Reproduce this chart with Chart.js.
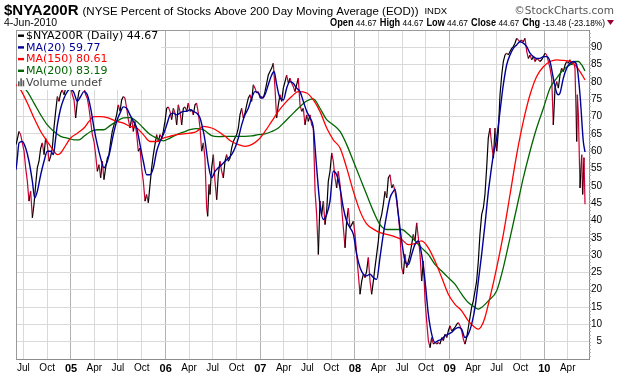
<!DOCTYPE html>
<html>
<head>
<meta charset="utf-8">
<script src="https://cdn.jsdelivr.net/npm/chart.js@4.4.0/dist/chart.umd.min.js"></script>
<style>
html,body{margin:0;padding:0;background:#fff;}
canvas{display:block;}
</style>
</head>
<body>
<canvas id="c" width="620" height="376"></canvas>
<script>
// ---------- DATA ----------
const titleSymbol = '$NYA200R';
const titleName = '(NYSE Percent of Stocks Above 200 Day Moving Average (EOD))';
const titleExchange = 'INDX';
const quoteDate = '4-Jun-2010';
const quoteFields = ['Open', 'High', 'Low', 'Close', 'Chg'];
const quoteValues = ['44.67', '44.67', '44.67', '44.67', '-13.48 (-23.18%)'];

// dates as decimal years
const priceDates = [
2004.420,2004.451,2004.468,2004.486,2004.504,2004.521,2004.539,2004.556,2004.574,2004.592,
2004.609,2004.627,2004.644,2004.662,2004.680,2004.697,2004.715,2004.732,2004.750,2004.768,
2004.785,2004.803,2004.820,2004.838,2004.856,2004.873,2004.891,2004.908,2004.926,2004.944,
2004.961,2004.979,2004.996,2005.014,2005.032,2005.049,2005.067,2005.084,2005.102,2005.120,
2005.137,2005.155,2005.172,2005.190,2005.208,2005.225,2005.243,2005.260,2005.278,2005.296,
2005.313,2005.331,2005.348,2005.366,2005.384,2005.401,2005.419,2005.436,2005.454,
2005.465,2005.482,2005.500,2005.518,2005.535,2005.553,2005.570,2005.588,2005.606,2005.623,
2005.641,2005.658,2005.676,2005.694,2005.711,2005.729,2005.746,2005.764,2005.782,2005.799,
2005.817,2005.835,2005.852,2005.870,2005.887,2005.905,2005.923,2005.940,2005.958,2005.975,
2005.993,2006.011,2006.028,2006.046,2006.063,2006.081,2006.099,2006.116,2006.134,2006.151,
2006.169,2006.187,2006.204,2006.222,2006.239,2006.257,2006.275,2006.292,2006.310,2006.327,
2006.345,2006.363,2006.380,2006.398,2006.415,2006.433,2006.444,2006.458,2006.468,
2006.486,2006.504,2006.521,2006.539,2006.556,2006.574,2006.592,2006.609,2006.627,2006.644,
2006.662,2006.680,2006.697,2006.715,2006.732,2006.750,2006.768,2006.785,2006.803,2006.820,
2006.838,2006.856,2006.873,2006.891,2006.908,2006.926,2006.944,2006.961,2006.979,2006.997,
2007.014,2007.032,2007.049,2007.067,2007.084,2007.102,2007.120,2007.137,2007.155,2007.172,
2007.190,2007.208,2007.225,2007.243,2007.261,2007.278,2007.296,2007.313,2007.331,2007.348,
2007.366,2007.384,2007.401,
2007.419,2007.437,2007.454,2007.472,2007.490,2007.507,2007.525,2007.542,2007.560,2007.578,
2007.595,2007.613,2007.630,2007.648,2007.666,2007.683,2007.701,2007.718,2007.736,2007.754,
2007.771,2007.789,2007.806,2007.824,2007.842,2007.859,2007.877,2007.895,2007.912,2007.930,
2007.947,2007.965,2007.983,2008.000,2008.018,2008.035,2008.053,2008.071,2008.088,2008.106,
2008.123,2008.141,2008.159,2008.176,2008.194,2008.211,2008.229,2008.247,2008.264,2008.282,
2008.299,2008.317,2008.335,2008.352,2008.370,2008.388,2008.405,
2008.423,2008.440,2008.458,2008.476,2008.493,2008.511,2008.528,2008.546,2008.564,2008.581,
2008.599,2008.616,2008.634,2008.652,2008.669,2008.687,2008.704,2008.722,2008.740,2008.757,
2008.775,2008.793,2008.810,2008.828,2008.845,2008.863,2008.880,2008.898,2008.916,2008.933,
2008.951,2008.969,2008.986,2009.004,2009.021,2009.039,2009.056,2009.074,2009.092,2009.109,
2009.127,2009.145,2009.162,2009.180,2009.197,2009.215,2009.232,2009.250,2009.268,2009.285,
2009.303,2009.320,2009.338,2009.356,2009.373,2009.391,2009.408,
2009.426,2009.444,2009.462,2009.479,2009.497,2009.514,2009.532,2009.550,2009.567,2009.585,
2009.602,2009.620,2009.638,2009.655,2009.673,2009.690,2009.708,2009.726,2009.743,2009.761,
2009.778,2009.796,2009.814,2009.831,2009.849,2009.866,2009.884,2009.902,2009.919,2009.937,
2009.954,2009.972,2009.990,2010.007,2010.025,2010.043,2010.060,2010.078,2010.095,2010.113,
2010.131,2010.148,2010.166,2010.183,2010.201,2010.219,2010.236,2010.254,2010.271,2010.289,
2010.307,2010.324,2010.342,2010.349,2010.360,2010.377,2010.395,2010.405,2010.419,2010.430
];
const priceValues = [
61.9,65.7,64.8,62.4,60.0,55.2,51.3,45.6,48.4,40.8,
44.6,50.4,55.2,57.1,60.9,62.4,59.0,63.8,61.9,57.1,
58.5,60.9,66.7,71.5,75.8,74.4,76.8,77.7,76.3,78.2,
78.7,77.7,78.7,76.3,74.8,69.6,74.4,77.2,78.2,77.7,
78.2,76.3,75.3,72.4,68.6,64.8,62.8,59.0,54.2,56.1,
52.3,57.1,51.8,55.2,58.0,59.0,62.8,65.7,67.6,
68.6,70.5,73.4,71.5,74.8,75.8,75.3,72.4,69.1,66.7,
69.6,65.7,68.6,64.8,60.0,60.9,55.2,51.3,45.6,47.5,
45.1,50.4,55.2,59.0,61.9,64.8,62.8,64.8,63.8,65.7,
68.6,72.4,72.8,71.5,69.1,72.4,71.0,67.6,73.4,71.5,
67.6,72.4,72.8,71.5,73.9,71.5,72.0,70.5,73.4,73.9,
71.0,66.7,60.0,62.4,58.0,43.6,41.2,50.4,47.5,
55.2,59.0,51.3,46.0,53.2,57.1,54.2,52.3,57.1,59.0,
57.1,58.0,60.9,62.8,63.8,64.8,66.7,70.5,72.4,69.6,
71.0,73.4,75.3,76.3,74.4,79.2,78.2,76.8,77.2,75.3,
75.8,75.3,77.2,79.6,82.0,83.0,84.0,85.4,78.2,69.6,
73.4,76.3,74.4,78.2,80.1,82.0,79.6,81.1,79.6,78.7,
77.2,79.2,81.1,
73.4,71.5,72.4,67.6,70.5,68.6,70.5,67.6,66.7,48.4,
41.7,30.2,45.6,41.7,45.6,38.8,42.7,51.3,54.2,59.5,
57.1,52.3,49.4,54.2,50.4,43.6,37.9,32.1,39.8,43.6,
37.9,38.8,39.8,36.0,30.2,24.5,18.7,22.5,24.5,23.5,
25.4,29.3,22.5,18.7,22.5,26.4,30.2,34.1,39.8,41.7,
44.6,48.4,46.5,52.3,53.2,49.4,50.4,
48.4,45.6,41.7,36.0,26.4,24.5,30.2,26.4,28.3,30.2,
33.1,36.0,34.1,39.3,35.0,30.2,22.5,28.3,16.8,11.0,
5.3,3.3,6.2,4.3,4.8,4.3,4.8,4.3,6.2,5.3,
7.2,6.2,8.1,9.6,8.1,8.6,9.1,10.0,10.5,9.6,
8.1,5.7,4.3,6.2,9.1,12.0,14.9,16.8,19.7,22.5,
28.3,36.0,41.7,43.6,47.5,55.2,63.8,
66.7,61.9,58.0,66.7,60.0,65.7,76.3,82.0,85.9,87.8,
88.3,87.8,88.8,89.7,90.2,91.2,92.6,92.1,91.6,92.1,
91.6,92.6,88.8,86.8,87.8,86.4,87.3,85.9,86.8,86.4,
85.9,86.4,87.3,88.3,87.8,85.9,84.0,81.1,67.6,78.2,
80.1,78.2,82.0,84.0,83.0,84.9,85.9,85.4,86.4,84.9,
85.9,84.0,62.8,76.3,70.5,49.4,59.0,47.5,58.15,44.67
];

const ma20Dates = [
2004.420,2004.433,2004.451,2004.486,2004.521,2004.556,2004.592,2004.616,2004.644,2004.680,
2004.715,2004.750,2004.785,2004.813,2004.838,2004.856,2004.891,2004.926,2004.961,2004.996,
2005.032,2005.067,2005.102,2005.137,2005.172,2005.208,2005.243,2005.278,2005.313,2005.348,
2005.384,2005.412,2005.447,2005.482,2005.518,2005.553,2005.588,2005.623,2005.659,2005.694,
2005.729,2005.764,2005.799,2005.835,2005.870,2005.905,2005.940,2005.975,2006.011,2006.046,
2006.081,2006.116,2006.151,2006.187,2006.222,2006.257,2006.292,2006.327,2006.363,2006.398,
2006.416,2006.451,2006.486,2006.521,2006.556,2006.592,2006.627,2006.662,2006.697,2006.732,
2006.768,2006.803,2006.838,2006.873,2006.908,2006.944,2006.979,2007.014,2007.049,2007.084,
2007.120,2007.145,2007.173,2007.208,2007.243,2007.278,2007.313,2007.348,2007.384,2007.419,
2007.454,2007.490,2007.525,2007.560,2007.595,2007.630,2007.666,2007.701,2007.736,2007.771,
2007.806,2007.842,2007.877,2007.912,2007.947,2007.983,2008.018,2008.053,2008.088,2008.123,
2008.159,2008.194,2008.229,2008.264,2008.299,2008.335,2008.370,2008.405,2008.423,2008.458,
2008.493,2008.528,2008.564,2008.599,2008.634,2008.669,2008.704,2008.740,2008.775,2008.810,
2008.845,2008.880,2008.916,2008.951,2008.986,2009.021,2009.056,2009.092,2009.127,2009.162,
2009.197,2009.232,2009.268,2009.303,2009.338,2009.373,2009.409,2009.426,2009.462,2009.497,
2009.532,2009.567,2009.602,2009.638,2009.673,2009.708,2009.743,2009.778,2009.814,2009.849,
2009.884,2009.919,2009.954,2009.990,2010.025,2010.060,2010.095,2010.131,2010.148,2010.166,
2010.201,2010.236,2010.271,2010.307,2010.342,2010.377,2010.412,2010.430
];
const ma20Values = [
54.7,58.0,62.4,62.8,60.9,57.1,51.3,46.5,48.4,53.2,
57.1,60.0,60.0,59.0,63.8,67.6,72.4,75.3,77.2,78.2,
76.8,74.4,75.8,77.2,76.3,72.4,66.7,61.9,58.0,55.2,
57.1,60.0,64.8,68.6,71.0,72.8,72.4,70.5,68.6,66.7,
61.9,57.1,53.2,53.2,55.2,60.0,62.8,64.8,67.6,70.5,
71.0,70.5,71.0,71.5,71.5,72.0,71.5,71.0,69.6,65.7,
63.0,56.1,52.3,54.2,55.2,56.1,57.1,58.0,59.0,60.9,
63.8,67.6,70.5,72.4,75.3,77.2,76.8,75.3,76.3,79.2,
82.0,83.0,79.2,75.3,74.8,78.2,80.1,79.6,78.2,77.2,
74.4,71.5,69.6,66.7,55.2,44.6,40.3,41.7,45.6,54.2,
53.2,49.4,43.6,39.8,37.9,36.0,30.2,26.4,24.5,24.0,
24.5,23.5,23.0,29.3,36.0,41.7,46.5,48.4,49.0,41.7,
34.1,28.3,27.3,30.2,33.1,34.1,30.2,22.5,12.9,7.2,
4.8,5.3,5.7,6.7,7.2,7.7,8.6,9.1,8.6,6.2,
7.2,10.0,14.9,22.5,30.2,38.8,48.4,52.0,59.0,63.8,
71.5,79.2,84.9,87.8,89.7,90.7,91.6,91.2,90.2,88.3,
87.3,86.8,86.8,87.3,87.3,85.9,81.1,76.8,76.3,76.8,
81.1,84.0,85.4,85.9,84.9,76.3,62.8,59.77
];

const ma150Dates = [
2004.420,2004.468,2004.539,2004.609,2004.680,2004.750,2004.820,2004.856,2004.891,2004.926,
2004.961,2004.996,2005.067,2005.137,2005.190,2005.243,2005.313,2005.384,2005.482,2005.553,
2005.623,2005.694,2005.764,2005.835,2005.905,2005.975,2006.046,2006.116,2006.187,2006.257,
2006.327,2006.398,2006.486,2006.556,2006.627,2006.697,2006.768,2006.838,2006.908,2006.979,
2007.049,2007.120,2007.190,2007.261,2007.331,2007.401,2007.490,2007.560,2007.630,2007.701,
2007.771,2007.842,2007.912,2007.983,2008.053,2008.123,2008.194,2008.264,2008.335,2008.405,
2008.493,2008.564,2008.634,2008.704,2008.775,2008.845,2008.916,2008.986,2009.056,2009.127,
2009.197,2009.268,2009.303,2009.338,2009.373,2009.409,2009.426,2009.497,2009.567,2009.638,
2009.708,2009.778,2009.849,2009.919,2009.990,2010.060,2010.131,2010.201,2010.271,2010.324,
2010.377,2010.430
];
const ma150Values = [
79.2,77.7,73.9,69.6,65.7,62.8,60.0,59.0,59.5,60.9,
62.4,63.8,65.2,66.7,68.6,70.0,70.0,69.7,68.6,68.1,
67.2,66.7,64.8,62.8,62.8,63.8,64.3,64.8,65.0,65.2,
65.7,67.2,66.7,65.7,64.3,62.8,61.9,61.4,61.9,63.3,
65.7,68.6,71.5,73.9,75.8,77.2,76.8,74.8,71.5,66.7,
63.3,60.9,55.2,48.4,42.7,39.0,37.5,36.5,36.0,35.5,
34.5,33.0,33.3,34.1,32.1,28.3,23.5,18.7,15.8,13.9,
11.0,9.1,8.6,9.6,12.0,15.8,17.7,26.4,36.0,47.5,
59.0,68.6,76.3,81.6,84.4,85.9,86.4,86.2,85.9,84.9,
83.0,80.61
];

const ma200Dates = [
2004.470,2004.539,2004.609,2004.680,2004.750,2004.820,2004.891,2004.961,2005.032,2005.084,
2005.137,2005.208,2005.278,2005.348,2005.412,2005.482,2005.553,2005.623,2005.694,2005.764,
2005.835,2005.905,2005.975,2006.046,2006.116,2006.187,2006.257,2006.327,2006.398,2006.486,
2006.556,2006.627,2006.697,2006.768,2006.838,2006.908,2006.979,2007.049,2007.120,2007.190,
2007.261,2007.331,2007.401,2007.490,2007.560,2007.630,2007.701,2007.771,2007.842,2007.912,
2007.983,2008.053,2008.123,2008.194,2008.264,2008.335,2008.405,2008.493,2008.564,2008.634,
2008.704,2008.775,2008.845,2008.916,2008.986,2009.056,2009.127,2009.197,2009.268,2009.303,
2009.338,2009.409,2009.497,2009.567,2009.638,2009.708,2009.778,2009.849,2009.919,2009.990,
2010.060,2010.131,2010.201,2010.271,2010.324,2010.360,2010.395,2010.430
];
const ma200Values = [
79.2,77.2,73.9,70.5,67.6,65.7,64.3,63.8,63.3,63.3,
64.3,65.7,66.2,66.2,67.4,68.6,69.6,69.7,68.6,66.7,
64.8,63.8,63.0,63.8,64.8,65.5,66.2,66.5,66.2,64.5,
64.2,64.3,64.3,64.3,64.3,64.4,64.8,65.0,65.7,66.7,
68.6,70.5,72.4,74.5,75.1,72.4,69.1,67.6,65.7,61.9,
57.1,52.3,47.5,42.7,38.8,37.4,37.4,37.4,36.0,34.1,
32.1,30.2,27.3,25.4,23.5,21.6,18.7,16.3,14.9,14.4,
14.9,16.8,19.7,26.4,35.0,43.6,52.3,60.0,66.7,72.4,
78.2,81.1,83.5,84.9,85.9,85.9,84.9,83.19
];

// axis ticks
const xTickValues = [2004.496,2004.748,2005,2005.247,2005.496,2005.748,2006,2006.247,2006.496,2006.748,
  2007,2007.247,2007.496,2007.748,2008,2008.249,2008.497,2008.749,2009,2009.247,2009.496,2009.748,2010,2010.247];
const xTickLabels = ['Jul','Oct','05','Apr','Jul','Oct','06','Apr','Jul','Oct',
  '07','Apr','Jul','Oct','08','Apr','Jul','Oct','09','Apr','Jul','Oct','10','Apr'];
const yTickValues = [5,10,15,20,25,30,35,40,45,50,55,60,65,70,75,80,85,90];
const xRange = [2004.419, 2010.472];
const yRange = [0, 95];

// ---------- STYLE ----------
const SANS = '"Liberation Sans", Arial, sans-serif';
const VERD = '"DejaVu Sans", Verdana, sans-serif';
const C_UP = '#000000', C_DOWN = '#cc0033', C_MA20 = '#000099', C_MA150 = '#ff0000', C_MA200 = '#006600';

const pts = (d, v) => d.map((x, i) => ({x: x, y: v[i]}));
const isYear = v => Math.abs(v - Math.round(v)) < 1e-6;

const legendItems = [
  {text: titleSymbol + ' (Daily) ' + priceValues[priceValues.length-1], color: '#000', mark: C_UP},
  {text: 'MA(20) ' + ma20Values[ma20Values.length-1], color: C_MA20, mark: C_MA20},
  {text: 'MA(150) ' + ma150Values[ma150Values.length-1], color: C_MA150, mark: C_MA150},
  {text: 'MA(200) ' + ma200Values[ma200Values.length-1], color: C_MA200, mark: C_MA200},
  {text: 'Volume undef', color: '#444', mark: 'bars'}
];

const framePlugin = {
  id: 'frame',
  beforeDatasetsDraw(chart) {
    const {ctx, chartArea: a} = chart;
    ctx.save();
    ctx.strokeStyle = '#9a9a9a';
    ctx.lineWidth = 1;
    ctx.beginPath();
    ctx.moveTo(a.left + 0.5, a.top); ctx.lineTo(a.left + 0.5, a.bottom);
    ctx.moveTo(a.left, a.top + 0.5); ctx.lineTo(a.right, a.top + 0.5);
    ctx.stroke();
    const ys = chart.scales.y;
    ctx.strokeStyle = '#b0b0b0';
    ctx.beginPath();
    for (let v = yRange[0] + 1; v < yRange[1]; v++) {
      const y = Math.round(ys.getPixelForValue(v)) + 0.5;
      ctx.moveTo(a.right, y); ctx.lineTo(a.right + 2, y);
    }
    ctx.stroke();
    ctx.restore();
  },
  afterDatasetsDraw(chart) {
    const {ctx, chartArea: a} = chart;
    ctx.save();
    ctx.font = '11px ' + VERD;
    let w = 0;
    legendItems.forEach(it => { w = Math.max(w, ctx.measureText(it.text).width); });
    const lh = 11.7, x0 = a.left + 1, y0 = a.top + 1;
    ctx.fillStyle = '#ffffff';
    ctx.fillRect(x0, y0, w + 12, lh * legendItems.length + 0.5);
    ctx.textBaseline = 'middle';
    legendItems.forEach((it, i) => {
      const yc = y0 + 4.5 + i * lh;
      if (it.mark === 'bars') {
        ctx.fillStyle = '#555';
        ctx.fillRect(x0 + 1, yc - 1, 1.6, 5);
        ctx.fillRect(x0 + 3.3, yc - 4, 1.6, 8);
        ctx.fillRect(x0 + 5.6, yc - 2, 1.6, 6);
      } else {
        ctx.fillStyle = it.mark;
        ctx.fillRect(x0 + 1, yc - 1, 6, 2.4);
      }
      ctx.fillStyle = it.color;
      ctx.fillText(it.text, x0 + 9, yc + 0.5);
    });
    ctx.restore();
  },
  afterDraw(chart) {
    const ctx = chart.ctx;
    ctx.save();
    ctx.textBaseline = 'alphabetic';
    ctx.textAlign = 'left';
    ctx.fillStyle = '#000';
    let x = 4;
    ctx.font = 'bold 15px ' + SANS;
    ctx.fillText(titleSymbol, x, 15);
    x += ctx.measureText(titleSymbol).width + 4;
    ctx.font = '11.5px ' + SANS;
    ctx.fillText(titleName, x, 15);
    x += ctx.measureText(titleName).width + 6;
    ctx.font = '9.5px ' + SANS;
    ctx.fillText(titleExchange, x, 14);
    ctx.textAlign = 'right';
    ctx.fillStyle = '#555';
    ctx.font = '10.5px ' + VERD;
    ctx.fillText('\u00A9StockCharts.com', 614, 14);
    ctx.textAlign = 'left';
    ctx.fillStyle = '#000';
    ctx.font = '10.5px ' + SANS;
    ctx.fillText(quoteDate, 4, 26);
    // quote line, fitted to the width it takes in the reference
    const segs = [];
    quoteFields.forEach((f, i) => {
      segs.push({t: f, f: 'bold 10.5px ' + SANS, g: 0});
      segs.push({t: ' ' + quoteValues[i], f: '9.5px ' + SANS, g: (i < quoteFields.length - 1 ? 3.5 : 0)});
    });
    let total = 0;
    segs.forEach(s => { ctx.font = s.f; s.w = ctx.measureText(s.t).width; total += s.w + s.g; });
    const qLeft = 330, qRight = 605;
    const k = Math.min(1, (qRight - qLeft) / total);
    ctx.save();
    ctx.translate(qRight - total * k, 0);
    ctx.scale(k, 1);
    let sx = 0;
    segs.forEach(s => { ctx.font = s.f; ctx.fillText(s.t, sx, 26); sx += s.w + s.g; });
    ctx.restore();
    ctx.fillStyle = '#990033';
    ctx.beginPath();
    ctx.moveTo(607, 20); ctx.lineTo(614, 20); ctx.lineTo(610.5, 25); ctx.closePath();
    ctx.fill();
    ctx.restore();
  }
};

const lineDs = (label, d, v, color, w) => ({
  label, data: pts(d, v), borderColor: color, borderWidth: w, pointRadius: 0,
  fill: false, tension: 0, cubicInterpolationMode: 'monotone', parsing: false
});

new Chart(document.getElementById('c'), {
  type: 'line',
  data: {
    datasets: [
      lineDs('MA(20)', ma20Dates, ma20Values, C_MA20, 1.4),
      lineDs('MA(150)', ma150Dates, ma150Values, C_MA150, 1.3),
      lineDs('MA(200)', ma200Dates, ma200Values, C_MA200, 1.3),
      {
        label: titleSymbol, data: pts(priceDates, priceValues), borderWidth: 1.2,
        borderColor: C_UP, pointRadius: 0, tension: 0, parsing: false,
        segment: { borderColor: c => (c.p1.parsed.y < c.p0.parsed.y ? C_DOWN : C_UP) }
      }
    ]
  },
  options: {
    responsive: false, animation: false, devicePixelRatio: 1, events: [],
    layout: { padding: { left: 16, right: 18, top: 30, bottom: 0 } },
    plugins: { legend: { display: false }, tooltip: { enabled: false }, title: { display: false } },
    scales: {
      x: {
        type: 'linear', position: 'bottom', min: xRange[0], max: xRange[1],
        afterBuildTicks: s => { s.ticks = xTickValues.map(v => ({value: v})); },
        afterFit: s => { s.height = 17; },
        grid: { color: c => (c.tick && isYear(c.tick.value) ? '#b2b2b2' : '#d9d9d9'), lineWidth: 1, drawTicks: false },
        border: { color: '#8c8c8c', width: 1 },
        ticks: {
          autoSkip: false, maxRotation: 0, padding: 3, color: '#000',
          callback: (v, i) => xTickLabels[i],
          font: c => ({ family: SANS, size: (c.tick && isYear(c.tick.value)) ? 11 : 10, weight: (c.tick && isYear(c.tick.value)) ? 'bold' : 'normal' })
        }
      },
      y: {
        type: 'linear', position: 'right', min: yRange[0], max: yRange[1],
        afterBuildTicks: s => { s.ticks = yTickValues.map(v => ({value: v})); },
        afterFit: s => { s.width = 13; },
        grid: { color: '#d9d9d9', lineWidth: 1, drawTicks: false },
        border: { color: '#8c8c8c', width: 1 },
        ticks: { padding: 2, crossAlign: 'far', color: '#000', font: { family: SANS, size: 10 } }
      }
    }
  },
  plugins: [framePlugin]
});
</script>
</body>
</html>
